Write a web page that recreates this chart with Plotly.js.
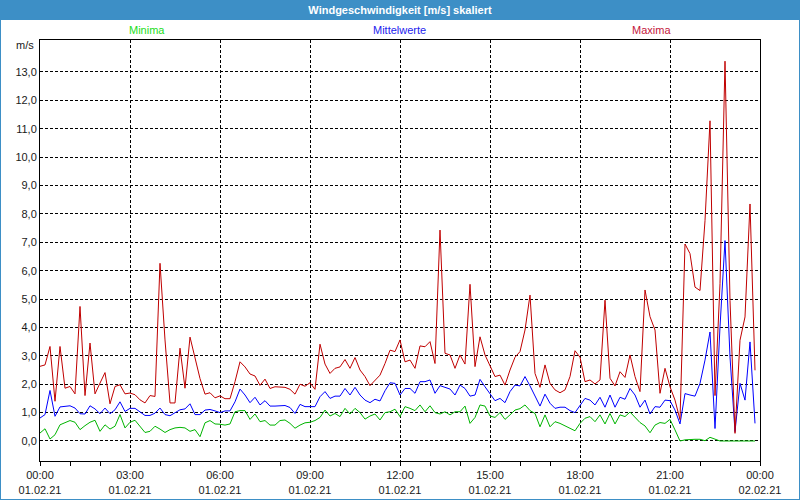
<!DOCTYPE html>
<html>
<head>
<meta charset="utf-8">
<script src="https://cdn.plot.ly/plotly-3.0.1.min.js"></script>
<style>
  html, body { margin: 0; padding: 0; background: #ffffff; }
  #wrap { position: relative; width: 800px; height: 500px; overflow: hidden; }
  #chart { position: absolute; left: 0; top: 0; width: 800px; height: 500px; }
  #frame { position: absolute; left: 0; top: 0; width: 800px; height: 500px; box-sizing: border-box;
           border: 1px solid #3d8fc6; border-top: none; pointer-events: none; }
</style>
</head>
<body>
<div id="wrap">
  <div id="chart"></div>
  <div id="frame"></div>
</div>
<script>
// --- data: 10-minute values, 01.02.21 00:00 .. 23:50 ---
const startTime = '2021-02-01 00:00';
const stepMinutes = 10;

const maxima = [
  2.63, 2.68, 3.33, 1.40, 3.33, 1.86, 1.92, 1.66, 4.74, 1.60, 3.45, 1.66,
  2.04, 2.41, 1.31, 1.92, 1.98, 1.66, 1.69, 1.63, 1.45, 1.34, 1.60, 1.57,
  6.26, 3.56, 1.34, 1.34, 3.27, 1.86, 3.66, 2.98, 2.20, 1.65, 1.70, 1.52,
  1.59, 1.49, 1.49, 2.09, 2.79, 2.61, 2.36, 2.29, 1.96, 2.18, 1.85, 1.91,
  1.91, 1.89, 1.82, 1.65, 2.00, 1.93, 2.05, 1.82, 3.41, 2.71, 2.38, 2.56,
  2.61, 2.87, 2.56, 2.94, 2.50, 2.27, 1.95, 2.15, 2.32, 2.73, 3.20, 3.15,
  3.56, 2.79, 2.85, 2.56, 3.35, 3.32, 3.50, 2.73, 7.43, 3.09, 3.03, 2.56,
  3.03, 2.71, 5.52, 2.62, 3.67, 3.03, 2.62, 2.27, 2.32, 1.97, 2.50, 2.95,
  3.15, 3.91, 5.14, 2.38, 1.89, 2.68, 2.03, 1.80, 1.70, 1.80, 2.27, 3.18,
  2.95, 2.09, 2.15, 2.01, 2.15, 4.96, 2.21, 1.94, 2.44, 2.24, 3.03, 2.27,
  1.74, 5.32, 4.38, 3.91, 1.68, 2.56, 1.91, 1.44, 0.75, 6.94, 6.60, 5.42,
  5.30, 7.76, 11.28, 1.60, 5.54, 13.38, 4.95, 0.27, 3.55, 4.37, 8.35, 2.49
];

const mittelwerte = [
  0.81, 0.93, 1.78, 0.87, 1.20, 1.22, 1.24, 1.16, 0.96, 0.95, 1.24, 1.13,
  0.96, 1.16, 0.96, 1.10, 1.38, 1.04, 1.15, 1.15, 1.01, 0.90, 0.90, 0.98,
  1.16, 0.93, 0.89, 0.98, 1.10, 1.13, 1.31, 0.93, 0.93, 1.09, 1.11, 1.06,
  1.00, 1.06, 1.06, 1.38, 1.83, 1.62, 1.35, 1.54, 1.27, 1.42, 1.23, 1.23,
  1.23, 1.25, 1.18, 0.97, 1.29, 1.21, 1.21, 1.21, 1.56, 1.74, 1.50, 1.58,
  1.58, 1.85, 1.62, 1.89, 1.62, 1.44, 1.35, 1.47, 1.41, 1.77, 2.05, 2.03,
  1.62, 1.85, 1.85, 1.68, 2.09, 2.09, 2.15, 1.68, 1.95, 1.89, 1.83, 1.62,
  1.97, 1.85, 1.58, 1.62, 2.17, 1.91, 1.68, 1.42, 1.50, 1.35, 1.74, 1.97,
  1.94, 2.27, 1.94, 1.56, 1.23, 1.65, 1.33, 1.15, 1.19, 1.19, 1.07, 1.00,
  1.23, 1.50, 1.44, 1.27, 1.54, 1.19, 1.62, 1.19, 1.54, 1.47, 1.85, 1.62,
  1.19, 1.44, 0.95, 1.21, 1.19, 1.44, 1.42, 1.09, 0.60, 1.67, 1.62, 1.58,
  2.03, 2.85, 3.84, 0.44, 4.02, 7.06, 2.96, 0.33, 2.03, 1.44, 3.49, 0.62
];

const minima = [
  0.28, 0.43, 0.07, 0.22, 0.57, 0.66, 0.72, 0.66, 0.40, 0.54, 0.66, 0.73,
  0.34, 0.57, 0.42, 0.52, 0.93, 0.46, 0.66, 0.73, 0.52, 0.30, 0.34, 0.52,
  0.42, 0.30, 0.40, 0.46, 0.48, 0.46, 0.34, 0.40, 0.15, 0.64, 0.72, 0.60,
  0.59, 0.56, 0.60, 1.03, 1.07, 1.07, 0.76, 0.95, 0.68, 0.72, 0.56, 0.56,
  0.72, 0.74, 0.62, 0.45, 0.56, 0.64, 0.66, 0.72, 0.83, 1.09, 0.88, 0.97,
  0.86, 1.15, 0.95, 1.15, 1.00, 0.77, 0.88, 0.95, 0.74, 1.00, 1.03, 1.12,
  0.86, 1.21, 1.15, 1.07, 1.27, 1.03, 1.24, 1.00, 0.95, 1.03, 0.92, 1.03,
  1.03, 1.23, 0.62, 0.83, 1.27, 1.23, 0.88, 0.83, 1.00, 0.76, 0.92, 1.09,
  1.14, 1.27, 1.07, 0.97, 0.50, 0.92, 0.50, 0.68, 0.62, 0.53, 0.45, 0.36,
  0.62, 0.80, 0.86, 0.68, 0.92, 0.60, 0.97, 0.60, 0.92, 0.86, 1.02, 0.83,
  0.65, 0.53, 0.29, 0.56, 0.65, 0.62, 0.76, 0.39, 0.00, 0.04, 0.06, 0.06,
  0.06, 0.01, 0.13, 0.06, 0.00, 0.00, 0.00, 0.00, 0.00, 0.00, 0.00, 0.00
];

const yTickVals = [0, 1, 2, 3, 4, 5, 6, 7, 8, 9, 10, 11, 12, 13];

const seriesNames = ['Minima', 'Mittelwerte', 'Maxima'];
const lineColors = ['#00b400', '#0000ff', '#c00000'];
const labelColors = ['#22dd22', '#2222ee', '#c4163c'];
const chartTitle = 'Windgeschwindigkeit [m/s] skaliert';
const yUnit = 'm/s';

// time stamps
const t0 = Date.UTC(2021, 1, 1, 0, 0);
const times = maxima.map((_, i) => t0 + i * stepMinutes * 60000);

const FONT = 'Liberation Sans, Arial, sans-serif';

const traces = [minima, mittelwerte, maxima].map((vals, k) => ({
  type: 'scatter', mode: 'lines', name: seriesNames[k],
  x: times, y: vals,
  line: { color: lineColors[k], width: 1 },
  showlegend: false, hoverinfo: 'skip'
}));

const W = 800, H = 500, ml = 40, mr = 40, mt = 40, mb = 39;
const pw = W - ml - mr, ph = H - mt - mb;
const px2paperX = px => (px - ml) / pw;
const py2paperY = py => (H - mb - py) / ph;

const annotations = seriesNames.map((n, k) => ({
  text: n, xref: 'paper', yref: 'paper',
  x: px2paperX([147, 399, 651][k]), y: py2paperY(30),
  xanchor: 'center', yanchor: 'middle', showarrow: false,
  font: { family: FONT, size: 11, color: labelColors[k] }
}));
annotations.push({
  text: yUnit, xref: 'paper', yref: 'paper',
  x: px2paperX(36), y: py2paperY(45), xanchor: 'right', yanchor: 'middle',
  showarrow: false, font: { family: FONT, size: 11, color: '#1a1a1a' }
});

const layout = {
  width: W, height: H,
  margin: { l: ml, r: mr, t: mt, b: mb, pad: 0 },
  paper_bgcolor: '#ffffff', plot_bgcolor: '#ffffff',
  separators: ',.',
  font: { family: FONT, size: 11, color: '#1a1a1a' },
  title: {
    text: '<b>' + chartTitle + '</b>',
    font: { family: FONT, size: 11, color: '#ffffff' },
    x: 0.5, xref: 'container', xanchor: 'center',
    y: 1 - 10 / H, yref: 'container', yanchor: 'middle'
  },
  shapes: [{
    type: 'rect', xref: 'paper', yref: 'paper', layer: 'below',
    x0: px2paperX(0), x1: px2paperX(800), y0: py2paperY(20), y1: py2paperY(-1),
    fillcolor: '#3d8fc6', line: { width: 0 }
  }],
  annotations: annotations,
  xaxis: {
    type: 'date',
    range: ['2021-02-01 00:00', '2021-02-02 00:00'],
    tickmode: 'linear', tick0: '2021-02-01 00:00', dtick: 3 * 3600000,
    tickformat: '%H:%M<br>%d.%m.%y',
    ticks: 'outside', ticklen: 4, tickcolor: '#000', tickwidth: 1,
    minor: { tickmode: 'linear', tick0: '2021-02-01 00:00', dtick: 3600000, ticks: 'outside', ticklen: 4, tickcolor: '#000', showgrid: false },
    showgrid: true, gridcolor: '#000000', gridwidth: 1, griddash: '3px,2px',
    showline: true, linecolor: '#000', linewidth: 1, mirror: true,
    zeroline: false, fixedrange: true,
    tickfont: { family: FONT, size: 11, color: '#1a1a1a' }
  },
  yaxis: {
    range: [-0.705, 14.127],
    tickmode: 'array', tickvals: yTickVals, tickformat: '.1f',
    ticks: '', showgrid: true, gridcolor: '#000000', gridwidth: 1, griddash: '3px,2px',
    showline: true, linecolor: '#000', linewidth: 1, mirror: true,
    zeroline: false, fixedrange: true,
    tickfont: { family: FONT, size: 11, color: '#1a1a1a' }
  }
};

Plotly.newPlot('chart', traces, layout, { staticPlot: true, displayModeBar: false });
</script>
</body>
</html>
